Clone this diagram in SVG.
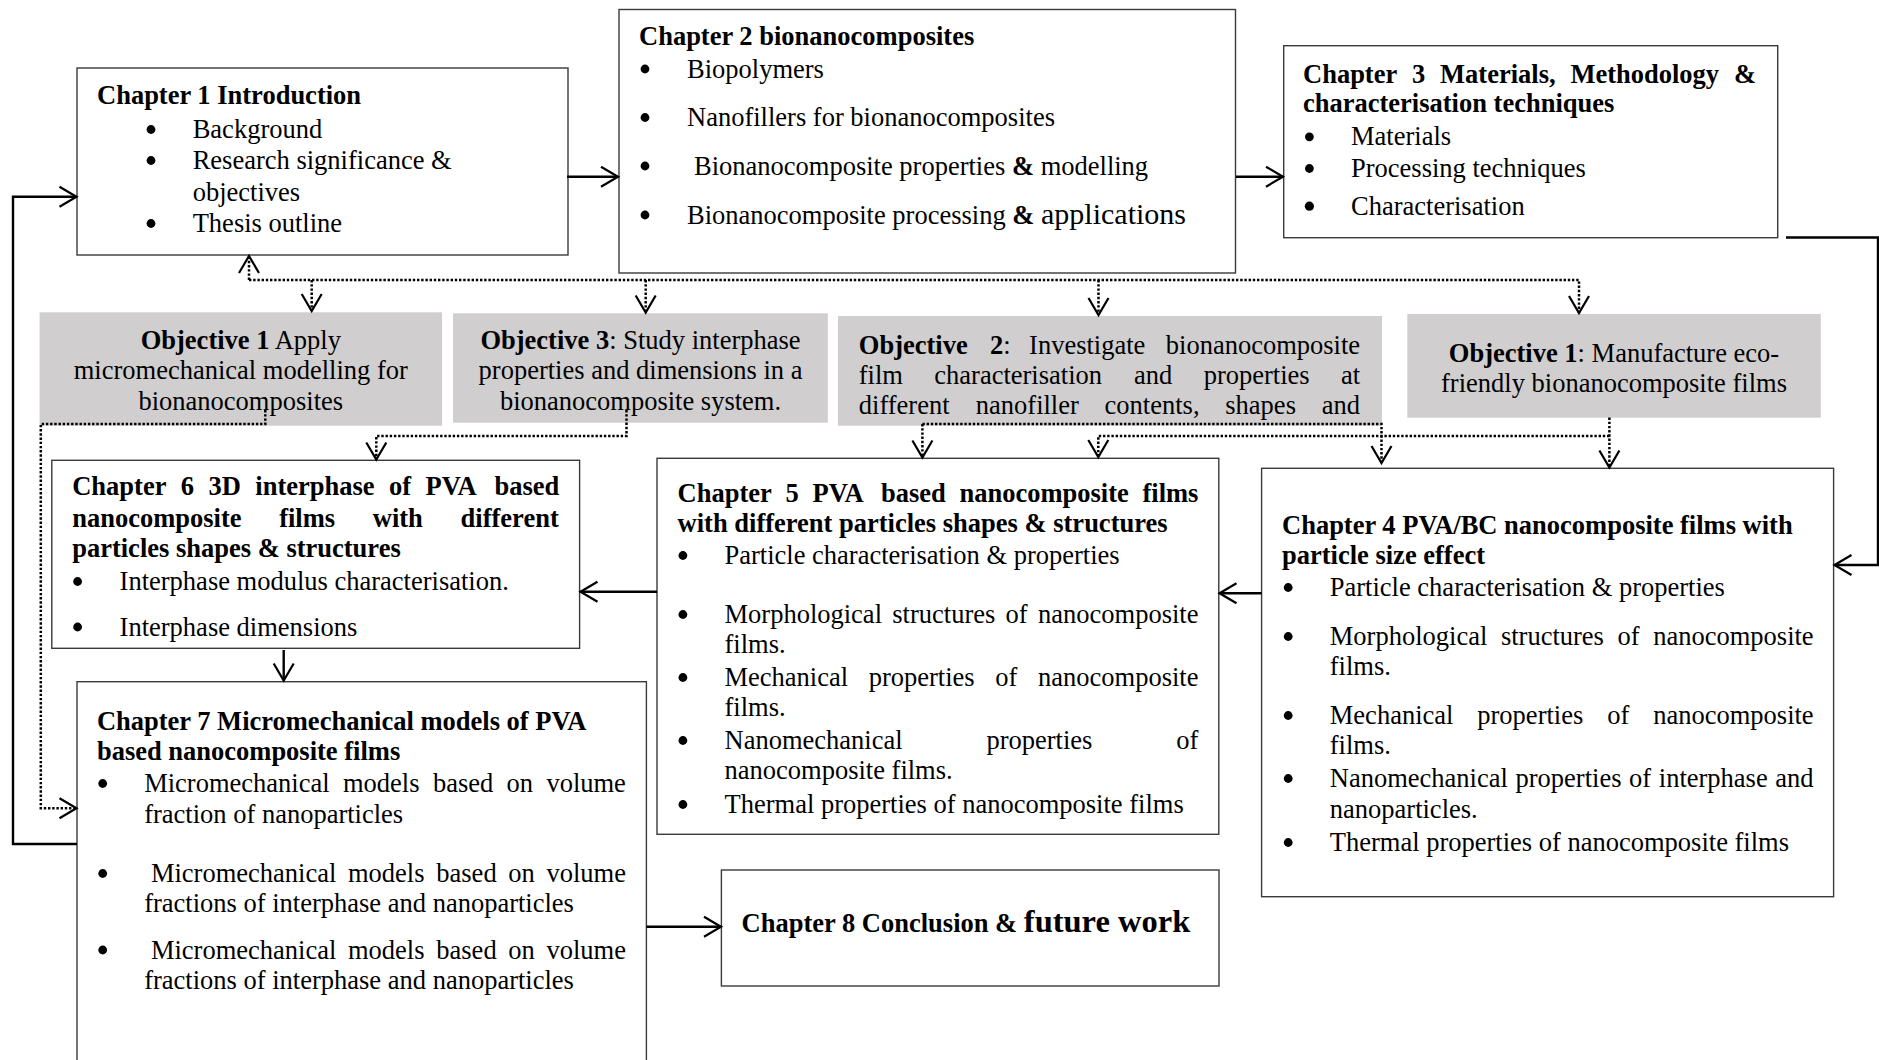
<svg xmlns="http://www.w3.org/2000/svg" width="1879" height="1060" viewBox="0 0 1879 1060">
<defs>
<style>
.box{fill:#fff;stroke:#3a3a3a;stroke-width:1.4}
.obj{fill:#d0cece;stroke:none}
.t{font-family:"Liberation Serif","Times New Roman",serif;font-size:26.5px;fill:#000;transform:translate(0px,2px)}
.b{font-weight:bold}
.conn{fill:none;stroke:#000;stroke-width:2.4;marker-end:url(#ah)}
.dota{fill:none;stroke:#000;stroke-width:2.5;stroke-dasharray:2.4 1.8;marker-end:url(#ah)}
.bul{fill:#000}
</style>
<marker id="ah" markerUnits="userSpaceOnUse" markerWidth="26" markerHeight="26" viewBox="-22 -13 26 26" refX="0" refY="0" orient="auto">
<path d="M-17,-10 L0,0 L-17,10" fill="none" stroke="#000" stroke-width="2.2"/>
</marker>
</defs>
<rect width="1879" height="1060" fill="#fff"/>

<g id="ch1">
<rect class="box" x="77" y="68" width="491" height="187"/>
<text class="t b" x="97" y="102">Chapter 1 Introduction</text>
<circle class="bul" cx="151" cy="129.5" r="4.4"/>
<circle class="bul" cx="151" cy="160.5" r="4.4"/>
<circle class="bul" cx="151" cy="223.5" r="4.4"/>
<text class="t" x="192.7" y="136">Background</text>
<text class="t" x="192.7" y="167">Research significance &amp;</text>
<text class="t" x="192.7" y="199">objectives</text>
<text class="t" x="192.7" y="230">Thesis outline</text>
</g>

<g id="ch2">
<rect class="box" x="619" y="9.5" width="616.5" height="263.5"/>
<text class="t b" x="639" y="43">Chapter 2 bionanocomposites</text>
<circle class="bul" cx="645" cy="69" r="4.4"/>
<circle class="bul" cx="645" cy="117.5" r="4.4"/>
<circle class="bul" cx="645" cy="166" r="4.4"/>
<circle class="bul" cx="645" cy="215" r="4.4"/>
<text class="t" x="687" y="75.5">Biopolymers</text>
<text class="t" x="687" y="124">Nanofillers for bionanocomposites</text>
<text class="t" x="694" y="172.7">Bionanocomposite properties <tspan class="b">&amp;</tspan> modelling</text>
<text class="t" x="687" y="221.7">Bionanocomposite processing <tspan class="b">&amp;</tspan> <tspan style="font-size:30px">applications</tspan></text>
</g>

<g id="ch3">
<rect class="box" x="1283.7" y="45.7" width="494" height="192"/>
<text class="t b" y="81"><tspan x="1303">Chapter</tspan><tspan x="1412">3</tspan><tspan x="1440.1">Materials,</tspan><tspan x="1570.4">Methodology</tspan><tspan x="1733.9">&amp;</tspan></text>
<text class="t b" x="1303" y="110">characterisation techniques</text>
<circle class="bul" cx="1309.4" cy="136.8" r="4.4"/>
<circle class="bul" cx="1309.4" cy="168.5" r="4.4"/>
<circle class="bul" cx="1309.4" cy="206.2" r="4.6"/>
<text class="t" x="1351" y="143.3">Materials</text>
<text class="t" x="1351" y="175">Processing techniques</text>
<text class="t" x="1351" y="212.7">Characterisation</text>
</g>

<g id="obj1a">
<rect class="obj" x="39.6" y="312.3" width="402.4" height="113.4"/>
<text class="t" x="240.8" y="347" text-anchor="middle"><tspan class="b">Objective 1</tspan> Apply</text>
<text class="t" x="240.8" y="377" text-anchor="middle">micromechanical modelling for</text>
<text class="t" x="240.8" y="408" text-anchor="middle">bionanocomposites</text>
</g>

<g id="obj3">
<rect class="obj" x="453" y="313.3" width="374.8" height="109.4"/>
<text class="t" x="640.5" y="347" text-anchor="middle"><tspan class="b">Objective 3</tspan>: Study interphase</text>
<text class="t" x="640.5" y="377" text-anchor="middle">properties and dimensions in a</text>
<text class="t" x="640.5" y="408" text-anchor="middle">bionanocomposite system.</text>
</g>

<g id="obj2">
<rect class="obj" x="838" y="316" width="544" height="109.7"/>
<text class="t" y="352"><tspan class="b" x="858.8">Objective</tspan><tspan x="990"><tspan class="b">2</tspan>:</tspan><tspan x="1029.1">Investigate</tspan><tspan x="1165.8">bionanocomposite</tspan></text>
<text class="t" y="382"><tspan x="858.8">film</tspan><tspan x="934.3">characterisation</tspan><tspan x="1134.1">and</tspan><tspan x="1203.7">properties</tspan><tspan x="1341">at</tspan></text>
<text class="t" y="412"><tspan x="858.8">different</tspan><tspan x="975.8">nanofiller</tspan><tspan x="1104.6">contents,</tspan><tspan x="1225.3">shapes</tspan><tspan x="1321.7">and</tspan></text>
</g>

<g id="obj1b">
<rect class="obj" x="1407.3" y="314" width="413.5" height="103.7"/>
<text class="t" x="1614" y="360" text-anchor="middle"><tspan class="b">Objective 1</tspan>: Manufacture eco-</text>
<text class="t" x="1614" y="390" text-anchor="middle">friendly bionanocomposite films</text>
</g>

<g id="ch6">
<rect class="box" x="51.8" y="460.3" width="527.8" height="188"/>
<text class="t b" y="493"><tspan x="72.2">Chapter</tspan><tspan x="180.8">6</tspan><tspan x="208.5">3D</tspan><tspan x="255.3">interphase</tspan><tspan x="389">of</tspan><tspan x="425.5">PVA</tspan><tspan x="494.4">based</tspan></text>
<text class="t b" y="525"><tspan x="72.2">nanocomposite</tspan><tspan x="279.2">films</tspan><tspan x="372.8">with</tspan><tspan x="460.6">different</tspan></text>
<text class="t b" x="72.2" y="555">particles shapes &amp; structures</text>
<circle class="bul" cx="77.6" cy="581.5" r="4.4"/>
<circle class="bul" cx="77.6" cy="627" r="4.4"/>
<text class="t" x="119.6" y="588">Interphase modulus characterisation.</text>
<text class="t" x="119.6" y="633.5">Interphase dimensions</text>
</g>

<g id="ch5">
<rect class="box" x="657" y="458.3" width="561.8" height="376"/>
<text class="t b" y="500"><tspan x="677.6">Chapter</tspan><tspan x="785.6">5</tspan><tspan x="812.6">PVA</tspan><tspan x="880.9">based</tspan><tspan x="959.5">nanocomposite</tspan><tspan x="1142.5">films</tspan></text>
<text class="t b" x="677.6" y="530">with different particles shapes &amp; structures</text>
<circle class="bul" cx="682.9" cy="555.5" r="4.4"/>
<circle class="bul" cx="682.9" cy="614.5" r="4.4"/>
<circle class="bul" cx="682.9" cy="677.5" r="4.4"/>
<circle class="bul" cx="682.9" cy="740.5" r="4.4"/>
<circle class="bul" cx="682.9" cy="804.5" r="4.4"/>
<text class="t" x="724.5" y="562">Particle characterisation &amp; properties</text>
<text class="t" y="621"><tspan x="724.5">Morphological</tspan><tspan x="892.3">structures</tspan><tspan x="1005.6">of</tspan><tspan x="1038">nanocomposite</tspan></text>
<text class="t" x="724.5" y="651">films.</text>
<text class="t" y="684"><tspan x="724.5">Mechanical</tspan><tspan x="868.7">properties</tspan><tspan x="995.3">of</tspan><tspan x="1038">nanocomposite</tspan></text>
<text class="t" x="724.5" y="714">films.</text>
<text class="t" y="747"><tspan x="724.5">Nanomechanical</tspan><tspan x="986.4">properties</tspan><tspan x="1176.3">of</tspan></text>
<text class="t" x="724.5" y="777">nanocomposite films.</text>
<text class="t" x="724.5" y="811">Thermal properties of nanocomposite films</text>
</g>

<g id="ch4">
<rect class="box" x="1261.6" y="468.3" width="572" height="428.4"/>
<text class="t b" x="1282" y="532">Chapter 4 PVA/BC nanocomposite films with</text>
<text class="t b" x="1282" y="562">particle size effect</text>
<circle class="bul" cx="1288.2" cy="587.5" r="4.4"/>
<circle class="bul" cx="1288.2" cy="636.5" r="4.4"/>
<circle class="bul" cx="1288.2" cy="715.5" r="4.4"/>
<circle class="bul" cx="1288.2" cy="778.5" r="4.4"/>
<circle class="bul" cx="1288.2" cy="842.5" r="4.4"/>
<text class="t" x="1329.8" y="594">Particle characterisation &amp; properties</text>
<text class="t" y="643"><tspan x="1329.8">Morphological</tspan><tspan x="1500.9">structures</tspan><tspan x="1617.5">of</tspan><tspan x="1653.2">nanocomposite</tspan></text>
<text class="t" x="1329.8" y="673">films.</text>
<text class="t" y="722"><tspan x="1329.8">Mechanical</tspan><tspan x="1477.3">properties</tspan><tspan x="1607.2">of</tspan><tspan x="1653.2">nanocomposite</tspan></text>
<text class="t" x="1329.8" y="752">films.</text>
<text class="t" y="785"><tspan x="1329.8">Nanomechanical</tspan><tspan x="1515.5">properties</tspan><tspan x="1629.1">of</tspan><tspan x="1658.8">interphase</tspan><tspan x="1775.3">and</tspan></text>
<text class="t" x="1329.8" y="816">nanoparticles.</text>
<text class="t" x="1329.8" y="849">Thermal properties of nanocomposite films</text>
</g>

<g id="ch7">
<rect class="box" x="77" y="681.7" width="569.4" height="420"/>
<text class="t b" x="96.9" y="728">Chapter 7 Micromechanical models of PVA</text>
<text class="t b" x="96.9" y="758">based nanocomposite films</text>
<circle class="bul" cx="102.7" cy="783.5" r="4.4"/>
<circle class="bul" cx="102.7" cy="873.5" r="4.4"/>
<circle class="bul" cx="102.7" cy="950" r="4.4"/>
<text class="t" y="790"><tspan x="144.2">Micromechanical</tspan><tspan x="343">models</tspan><tspan x="432.9">based</tspan><tspan x="506.6">on</tspan><tspan x="546.4">volume</tspan></text>
<text class="t" x="144.2" y="821">fraction of nanoparticles</text>
<text class="t" y="880"><tspan x="150.9">Micromechanical</tspan><tspan x="348">models</tspan><tspan x="436.3">based</tspan><tspan x="508.3">on</tspan><tspan x="546.5">volume</tspan></text>
<text class="t" x="144.2" y="910">fractions of interphase and nanoparticles</text>
<text class="t" y="956.7"><tspan x="150.9">Micromechanical</tspan><tspan x="348">models</tspan><tspan x="436.3">based</tspan><tspan x="508.3">on</tspan><tspan x="546.5">volume</tspan></text>
<text class="t" x="144.2" y="987">fractions of interphase and nanoparticles</text>
</g>

<g id="ch8">
<rect class="box" x="721.4" y="870" width="497.6" height="116"/>
<text class="t b" x="741.6" y="930">Chapter 8 Conclusion &amp; <tspan style="font-size:32.5px">future work</tspan></text>
</g>

<g id="connectors">
<path class="conn" d="M567,176.7 H618"/>
<path class="conn" d="M1236,176.7 H1283"/>
<path class="conn" d="M1786,237.5 H1878 V565 H1834.5"/>
<path class="conn" d="M657,591.7 H580.5"/>
<path class="conn" d="M1261.6,593.3 H1219.5"/>
<path class="conn" d="M283.7,650 V680.5"/>
<path class="conn" d="M646.4,926.7 H721"/>
<path class="conn" d="M77,844 H13 V196.7 H76.5"/>
<path class="dota" d="M249,280 V256"/>
<path class="dota" d="M249,280 H1579 V313"/>
<path class="dota" d="M311.7,280 V311"/>
<path class="dota" d="M645.7,280 V312.5"/>
<path class="dota" d="M1098.5,280 V315"/>
<path class="dota" d="M265.3,410 V424 H40.8 V808.3 H76.5"/>
<path class="dota" d="M626.5,410 V436 H376.3 V459.5"/>
<path class="dota" d="M922.4,424 H1381.5 V463"/>
<path class="dota" d="M922.4,424 V457.5"/>
<path class="dota" d="M1609.4,417.5 V467.5"/>
<path class="dota" d="M1609.4,436 H1098.3 V457"/>
</g>
</svg>
